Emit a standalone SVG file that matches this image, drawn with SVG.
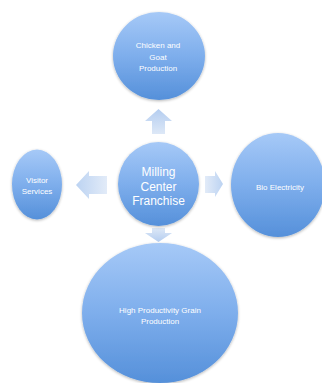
<svg xmlns="http://www.w3.org/2000/svg" width="322" height="383" viewBox="0 0 322 383">
<defs>
<linearGradient id="gc" x1="0" y1="0" x2="0" y2="1">
<stop offset="0" stop-color="#a6c9f7"/>
<stop offset="0.5" stop-color="#7eaeec"/>
<stop offset="1" stop-color="#5590da"/>
</linearGradient>
<linearGradient id="gaUp" x1="0" y1="0" x2="0" y2="1">
<stop offset="0" stop-color="#b4cdf0"/>
<stop offset="1" stop-color="#dde8f7"/>
</linearGradient>
<linearGradient id="gaDown" x1="0" y1="1" x2="0" y2="0">
<stop offset="0" stop-color="#b4cdf0"/>
<stop offset="1" stop-color="#dde8f7"/>
</linearGradient>
<linearGradient id="gaLeft" x1="0" y1="0" x2="1" y2="0">
<stop offset="0" stop-color="#bcd3f2"/>
<stop offset="1" stop-color="#e2ebf8"/>
</linearGradient>
<linearGradient id="gaRight" x1="1" y1="0" x2="0" y2="0">
<stop offset="0" stop-color="#bcd3f2"/>
<stop offset="1" stop-color="#e2ebf8"/>
</linearGradient>
<filter id="sh" x="-20%" y="-20%" width="140%" height="140%">
<feGaussianBlur in="SourceAlpha" stdDeviation="1.5"/>
<feOffset dy="1" result="b"/>
<feComponentTransfer><feFuncA type="linear" slope="0.3"/></feComponentTransfer>
<feMerge><feMergeNode/><feMergeNode in="SourceGraphic"/></feMerge>
</filter>
</defs>
<style>
.node{fill:url(#gc);filter:url(#sh);}
.t{font-family:"Liberation Sans",Arial,sans-serif;fill:#ffffff;text-anchor:middle;font-size:8px;}
.tb{font-size:12px;}
</style>
<rect width="322" height="383" fill="#ffffff"/>
<g id="connectors">
<polygon id="arrow-up" points="158.5,109 172,121 165,121 165,134 152,134 152,121 145,121" fill="url(#gaUp)"/>
<polygon id="arrow-left" points="76,185 89,171 89,176 107,176 107,194 89,194 89,199" fill="url(#gaLeft)"/>
<polygon id="arrow-right" points="223,184 215,171 215,176 205,176 205,193 215,193 215,197" fill="url(#gaRight)"/>
<polygon id="arrow-down" points="158.5,242 172,233 165,233 165,228 152,228 152,233 145,233" fill="url(#gaDown)"/>
</g>
<g id="node-chicken">
<ellipse class="node" cx="159" cy="56" rx="46" ry="44"/>
<text class="t" x="158" y="48">Chicken and</text>
<text class="t" x="158" y="60">Goat</text>
<text class="t" x="158" y="71">Production</text>
</g>
<g id="node-visitor">
<ellipse class="node" cx="37" cy="184.5" rx="25" ry="35"/>
<text class="t" x="37" y="183">Visitor</text>
<text class="t" x="37" y="194">Services</text>
</g>
<g id="node-bio">
<ellipse class="node" cx="278" cy="185" rx="47" ry="52"/>
<text class="t" x="280" y="190">Bio Electricity</text>
</g>
<g id="node-grain">
<ellipse class="node" cx="160" cy="313" rx="78" ry="70"/>
<text class="t" x="160" y="313">High Productivity Grain</text>
<text class="t" x="160" y="324">Production</text>
</g>
<g id="node-center">
<ellipse class="node" cx="158.5" cy="184" rx="40.5" ry="42"/>
<text class="t tb" x="158.5" y="176">Milling</text>
<text class="t tb" x="158.5" y="191">Center</text>
<text class="t tb" x="158.5" y="205">Franchise</text>
</g>
</svg>
